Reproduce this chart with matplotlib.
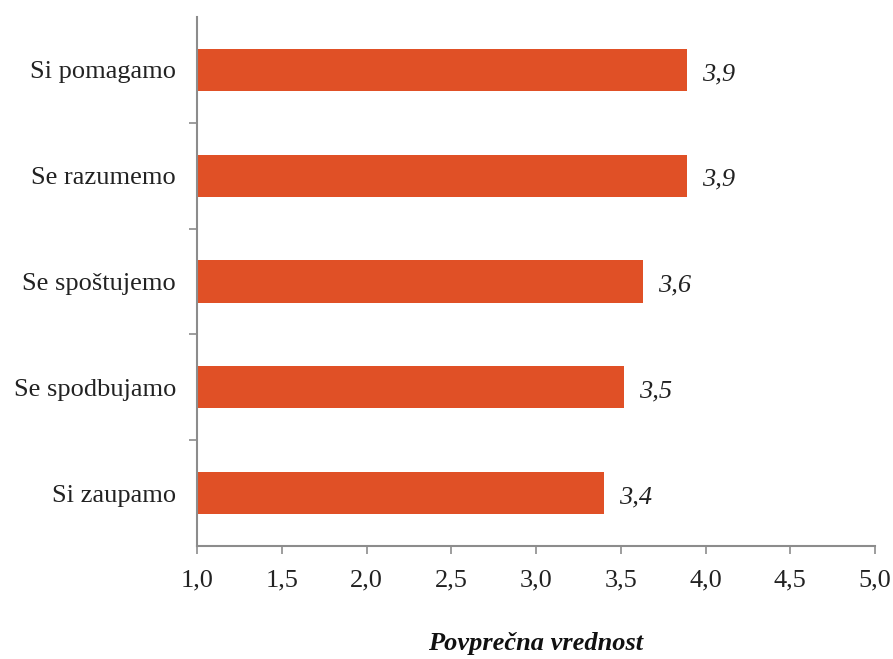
import numpy as np
import matplotlib.pyplot as plt

# ------------------------------------------------------------
# Podatki
# ------------------------------------------------------------
trditve = ['Si pomagamo', 'Se razumemo', 'Se spoštujemo', 'Se spodbujamo', 'Si zaupamo']
povprecja = [3.89, 3.89, 3.63, 3.52, 3.40]

barva = '#E05026'
siva = '#8C8C8C'
fs = 19

plt.rcParams['font.family'] = ['Liberation Serif', 'DejaVu Serif']

fig = plt.figure(figsize=(8.93, 6.59), dpi=100)
ax = fig.add_axes([0.2206, 0.1715, 0.7594, 0.8027])

y = np.arange(len(trditve))
ax.barh(y, np.array(povprecja) - 1.0, left=1.0, height=0.4, color=barva)

# vrednosti ob stolpcih
for yi, v in zip(y, povprecja):
    ax.text(v + 0.09, yi + 0.04, f'{v:.1f}'.replace('.', ','), va='center', ha='left',
            fontsize=fs, style='italic', color='#222222')

ax.set_xlim(1.0, 5.0)
ax.set_ylim(len(trditve) - 0.5, -0.5)

xt = np.arange(1.0, 5.01, 0.5)
ax.set_xticks(xt)
ax.set_xticklabels([f'{t:.1f}'.replace('.', ',') for t in xt], fontsize=fs, color='#222222')
ax.set_yticks(y)
ax.set_yticklabels(trditve, fontsize=fs, color='#222222')
ax.set_yticks(np.arange(0.5, len(trditve) - 1, 1.0), minor=True)

ax.tick_params(axis='x', direction='out', length=6, width=1.2, color=siva, pad=11)
ax.tick_params(axis='y', which='major', length=0, pad=15)
ax.tick_params(axis='y', which='minor', direction='out', length=6, width=1.2, color=siva)

for s in ['top', 'right']:
    ax.spines[s].set_visible(False)
for s in ['left', 'bottom']:
    ax.spines[s].set_color(siva)
    ax.spines[s].set_linewidth(1.5)

ax.set_xlabel('Povprečna vrednost', fontsize=fs, fontweight='bold', style='italic',
              labelpad=29, color='#111111')

plt.savefig('out.png', dpi=100)
